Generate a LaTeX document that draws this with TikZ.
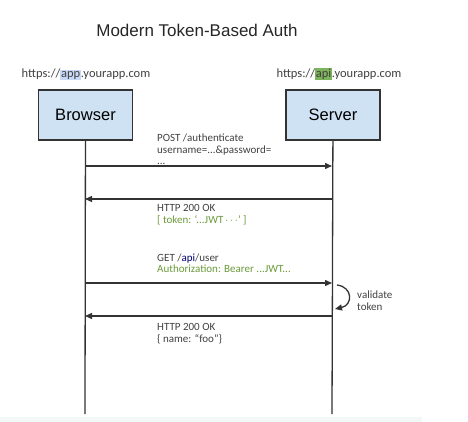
\documentclass[tikz,border=0pt]{standalone}
\usepackage{fontspec}
\setmainfont{Carlito}
\newfontfamily\headfont{Liberation Sans}
\usetikzlibrary{arrows.meta}
\definecolor{boxblue}{HTML}{CFE2F3}
\definecolor{appblue}{HTML}{C9DAF8}
\definecolor{apigreen}{HTML}{7DB35A}
\definecolor{msggreen}{HTML}{6A9A3A}
\definecolor{inkgray}{HTML}{333333}
\definecolor{txtgray}{HTML}{404040}
\definecolor{stripcol}{HTML}{F2F8F8}
\tikzset{
  actor/.style={draw=inkgray, line width=1.2pt, fill=boxblue, minimum width=94pt, minimum height=50pt, font=\headfont\fontsize{16.5}{19}\selectfont},
  urltxt/.style={text=txtgray, font=\fontsize{12.5}{14}\selectfont, inner sep=0pt},
  msgtxt/.style={text=txtgray, font=\fontsize{11}{11.5}\selectfont, anchor=north west, align=left, inner sep=0pt},
  life/.style={draw=inkgray, line width=1.3pt},
  msg/.style={draw=inkgray, line width=1.3pt, -{Triangle[length=7pt,width=6pt]}}
}
\setlength{\fboxsep}{0.6pt}
\begin{document}
\begin{tikzpicture}[x=1pt,y=-1pt]
\useasboundingbox (0,0) rectangle (468,422);
\fill[stripcol] (0,417) rectangle (422,422);
\node[font=\headfont\fontsize{17}{20}\selectfont, text=black!85] (title) at (197,30) {Modern Token-Based Auth};
\node[urltxt] (burl) at (86,74) {https://\colorbox{appblue}{app}.yourapp.com};
\node[urltxt] (surl) at (339,74) {https://\colorbox{apigreen}{api}.yourapp.com};
\node[actor] (br) at (85.5,115) {Browser};
\node[actor] (sv) at (333,115) {Server};
\coordinate (bend) at (85,414);
\coordinate (send) at (332,414);
\draw[life] (br) -- (bend);
\draw[life] (sv) -- (send);
% login
\coordinate (b1) at (85,166);
\coordinate (s1) at (332,166);
\draw[msg] (b1) -- (s1);
\node[msgtxt] (m1) at (157,134) {POST /authenticate\\username=...\&password=\\...};
\coordinate (s2) at (332,199);
\coordinate (b2) at (85,199);
\draw[msg] (s2) -- (b2);
\node[msgtxt] (m2) at (157,204.5) {HTTP 200 OK\\\textcolor{msggreen}{[ token: `...JWT\,$\cdots$' ]}};
% request
\coordinate (b3) at (85,283);
\coordinate (s3) at (332,283);
\draw[msg] (b3) -- (s3);
\node[msgtxt] (m3) at (157,253.5) {GET /\textcolor{blue!45!black}{api}/user\\\textcolor{msggreen}{Authorization: Bearer ...JWT...}};
\coordinate (vtop) at (337,285);
\coordinate (vbot) at (335,309);
\draw[msg] (vtop) .. controls (353,287) and (353,305) .. (vbot);
\node[msgtxt] (vt) at (357,291) {validate\\token};
\coordinate (s4) at (332,316);
\coordinate (b4) at (85,316);
\draw[msg] (s4) -- (b4);
\node[msgtxt] (m4) at (157,323.5) {HTTP 200 OK\\\{ name: ``foo''\}};
\end{tikzpicture}
\end{document}
